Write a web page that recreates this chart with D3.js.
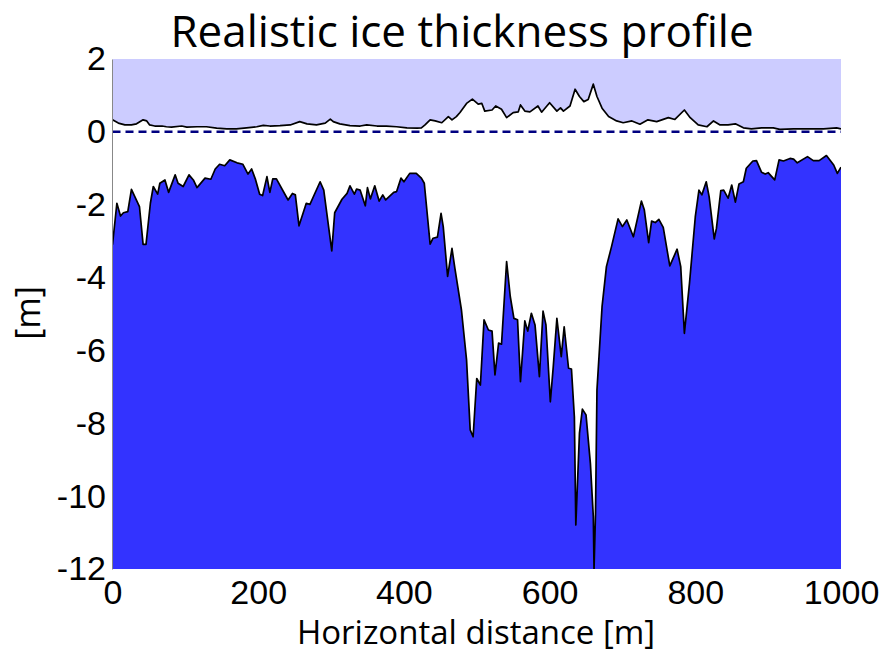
<!DOCTYPE html>
<html>
<head>
<meta charset="utf-8">
<script src="https://cdn.jsdelivr.net/npm/d3@7"></script>
<style>
  body { margin: 0; background: #fff; }
  .tick text { font-family: "Liberation Sans", Arial, sans-serif; font-size: 34px; fill: #000; }
</style>
</head>
<body>
<svg width="885" height="653"></svg>
<script>
// ice bottom (draft) along the profile
var bottomX = [0, 6, 11, 15, 21, 26, 37, 42, 46, 52, 56, 62, 65, 72, 77, 86, 90, 97, 105, 111,
  116, 127, 135, 141, 147, 154, 161, 171, 179, 186, 191, 196, 202, 206, 212, 216, 220, 225, 241, 247,
  251, 256, 266, 271, 285, 290, 301, 305, 315, 322, 326, 332, 335, 340, 347, 350, 354, 360, 366, 371,
  375, 386, 390, 396, 400, 408, 417, 424, 428, 436, 440, 446, 451, 454, 460, 466, 470, 479, 486, 491,
  495, 500, 505, 510, 516, 521, 525, 530, 534, 541, 546, 551, 556, 560, 566, 570, 575, 580, 586, 591,
  595, 601, 605, 610, 616, 620, 626, 630, 634, 636, 641, 645, 650, 656, 660, 661, 663, 665, 672, 678,
  685, 694, 700, 706, 715, 726, 730, 736, 740, 745, 750, 756, 765, 775, 780, 785, 792, 800, 805, 809,
  815, 819, 826, 829, 835, 839, 845, 850, 855, 860, 866, 870, 879, 884, 891, 896, 900, 909, 915, 921,
  930, 935, 940, 954, 962, 970, 980, 990, 995, 1000];
var bottomDepth = [-3.1, -1.96, -2.31, -2.22, -2.19, -1.58, -2.05, -3.09, -3.09, -1.96,
  -1.5, -1.71, -1.41, -1.32, -1.66, -1.18, -1.41, -1.5, -1.18, -1.32,
  -1.53, -1.27, -1.3, -1.02, -0.89, -0.93, -0.77, -0.85, -0.89, -1.16,
  -1.02, -1.29, -1.71, -1.75, -1.23, -1.66, -1.29, -1.29, -1.87, -1.69,
  -1.73, -2.58, -1.96, -1.99, -1.37, -1.6, -3.27, -2.22, -1.85, -1.69,
  -1.48, -1.71, -1.57, -1.6, -2.03, -1.53, -1.84, -1.48, -1.9, -1.73,
  -1.87, -1.66, -1.64, -1.27, -1.37, -1.14, -1.14, -1.27, -1.41, -3.08,
  -2.92, -2.89, -2.24, -2.6, -3.97, -3.2, -3.75, -4.89, -6.26, -8.18,
  -8.37, -6.77, -6.95, -5.16, -5.44, -5.47, -6.67, -5.8, -5.83, -3.56,
  -4.52, -5.12, -5.16, -6.86, -5.19, -5.47, -4.98, -5.3, -6.72, -4.92,
  -5.3, -7.41, -6.45, -5.12, -6.17, -5.35, -6.49, -6.51, -7.82, -10.79,
  -8.27, -7.61, -7.77, -9.1, -10.56, -12, -10.5, -7.09, -4.8, -3.7,
  -3.15, -2.39, -2.6, -2.42, -2.88, -1.9, -2.14, -3.04, -2.45, -2.49,
  -2.4, -2.62, -3.68, -3.22, -3.7, -5.53, -4.16, -2.33, -1.6, -1.73,
  -1.37, -1.78, -2.94, -2.65, -1.61, -1.6, -1.82, -1.46, -1.93, -1.43,
  -1.37, -1.0, -0.8, -0.79, -1.11, -1.16, -1.12, -1.32, -0.77, -0.8,
  -0.73, -0.75, -0.85, -0.68, -0.79, -0.79, -0.65, -0.91, -1.14, -0.97];

// ice surface (freeboard)
var surfaceX = [0, 8, 17, 26, 33, 42, 47, 51, 58, 68, 74, 81, 95, 102, 116, 129, 143, 157, 170, 184,
  198, 207, 216, 230, 244, 257, 267, 280, 292, 299, 303, 312, 326, 340, 349, 363, 376, 390, 404, 418,
  424, 429, 436, 443, 452, 461, 466, 472, 477, 486, 494, 502, 507, 511, 521, 526, 534, 541, 550, 557,
  560, 566, 573, 584, 589, 600, 610, 615, 619, 628, 635, 641, 647, 653, 660, 665, 672, 681, 692, 701,
  713, 724, 735, 747, 763, 772, 785, 793, 804, 816, 825, 834, 845, 855, 866, 877, 891, 907, 916, 935,
  958, 976, 994, 1000];
var surfaceHeight = [0.33, 0.24, 0.19, 0.19, 0.22, 0.33, 0.3, 0.19, 0.16, 0.16,
  0.14, 0.13, 0.16, 0.13, 0.14, 0.14, 0.1, 0.08, 0.08, 0.11,
  0.14, 0.18, 0.16, 0.17, 0.19, 0.28, 0.22, 0.19, 0.24, 0.35,
  0.28, 0.22, 0.17, 0.16, 0.19, 0.16, 0.16, 0.14, 0.11, 0.1,
  0.11, 0.19, 0.33, 0.3, 0.25, 0.42, 0.33, 0.42, 0.53, 0.78,
  0.9, 0.76, 0.78, 0.57, 0.6, 0.71, 0.62, 0.39, 0.53, 0.55,
  0.74, 0.57, 0.55, 0.71, 0.54, 0.8, 0.57, 0.66, 0.57, 0.71,
  1.17, 0.97, 0.83, 0.89, 1.31, 0.97, 0.65, 0.42, 0.3, 0.25,
  0.3, 0.21, 0.33, 0.28, 0.39, 0.34, 0.6, 0.39, 0.19, 0.14,
  0.3, 0.19, 0.19, 0.22, 0.11, 0.08, 0.11, 0.11, 0.07, 0.08,
  0.08, 0.08, 0.11, 0.08];

var xTicks = [0, 200, 400, 600, 800, 1000];
var yTicks = [2, 0, -2, -4, -6, -8, -10, -12];
var seaLevel = 0;

var svg = d3.select("svg"),
    width = +svg.attr("width"),
    height = +svg.attr("height");

var margin = { left: 112.5, right: 44, top: 59, bottom: 84 };

var x = d3.scaleLinear().domain([0, 1000]).range([margin.left, width - margin.right]);
var y = d3.scaleLinear().domain([-12, 2]).range([height - margin.bottom, margin.top]);

var bottom = bottomX.map(function (d, i) { return { x: d, v: bottomDepth[i] }; });
var surface = surfaceX.map(function (d, i) { return { x: d, v: surfaceHeight[i] }; });

svg.append("clipPath").attr("id", "plot")
    .append("rect")
    .attr("x", x(0)).attr("y", y(2))
    .attr("width", x(1000) - x(0)).attr("height", y(-12) - y(2));

var g = svg.append("g").attr("clip-path", "url(#plot)");

// sky
g.append("rect")
    .attr("x", x(0)).attr("y", y(2))
    .attr("width", x(1000) - x(0)).attr("height", y(-12) - y(2))
    .attr("fill", "#ccccff");

// ice (white) from the surface down
g.append("path")
    .datum(surface)
    .attr("fill", "#fff")
    .attr("d", d3.area()
        .x(function (d) { return x(d.x); })
        .y0(y(-12))
        .y1(function (d) { return y(d.v); }));

// water below the ice
g.append("path")
    .datum(bottom)
    .attr("fill", "#3333ff")
    .attr("d", d3.area()
        .x(function (d) { return x(d.x); })
        .y0(y(-12))
        .y1(function (d) { return y(d.v); }));

var line = d3.line()
    .x(function (d) { return x(d.x); })
    .y(function (d) { return y(d.v); });

g.append("path").datum(surface)
    .attr("fill", "none").attr("stroke", "#000").attr("stroke-width", 1.7)
    .attr("stroke-linejoin", "round")
    .attr("d", line);

g.append("path").datum(bottom)
    .attr("fill", "none").attr("stroke", "#000").attr("stroke-width", 1.7)
    .attr("stroke-linejoin", "round")
    .attr("d", line);

// sea level
g.append("line")
    .attr("x1", x(0)).attr("x2", x(1000))
    .attr("y1", y(seaLevel)).attr("y2", y(seaLevel))
    .attr("stroke", "#000080").attr("stroke-width", 2.5)
    .attr("stroke-dasharray", "8,5");

// plain labels, ascii hyphen, no thousands comma
var plain = function (d) { return String(d); };

svg.append("g")
    .attr("transform", "translate(" + (x(0) - 0.5) + ",0)")
    .call(d3.axisLeft(y).tickValues(yTicks).tickSize(0).tickPadding(6).tickFormat(plain))
    .call(function (a) { a.select(".domain").attr("stroke", "#888").attr("stroke-width", 1); });

svg.append("g")
    .attr("transform", "translate(0," + y(-12) + ")")
    .call(d3.axisBottom(x).tickValues(xTicks).tickSize(0).tickPadding(11).tickFormat(plain))
    .call(function (a) { a.select(".domain").remove(); });

svg.append("text")
    .attr("x", 462).attr("y", 47)
    .attr("text-anchor", "middle")
    .style("font-family", "'Open Sans', 'Noto Sans', sans-serif")
    .style("font-size", "44px")
    .text("Realistic ice thickness profile");

svg.append("text")
    .attr("x", 476).attr("y", 644)
    .attr("text-anchor", "middle")
    .style("font-family", "'Open Sans', 'Noto Sans', sans-serif")
    .style("font-size", "33px")
    .text("Horizontal distance [m]");

svg.append("text")
    .attr("transform", "translate(40," + 313 + ") rotate(-90)")
    .attr("text-anchor", "middle")
    .style("font-family", "'Open Sans', 'Noto Sans', sans-serif")
    .style("font-size", "34px")
    .text("[m]");
</script>
</body>
</html>
